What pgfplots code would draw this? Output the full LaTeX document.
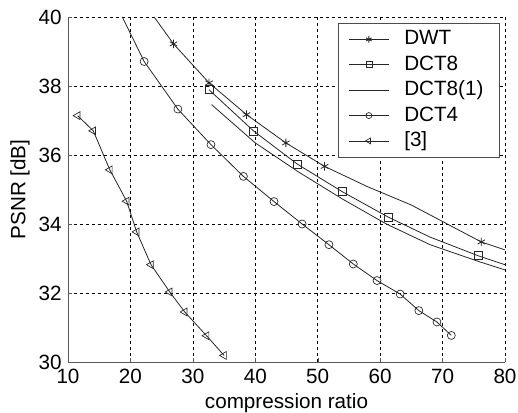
\documentclass[border=0pt]{standalone}
\usepackage{fontspec}
\setmainfont{Liberation Sans}
\usepackage{pgfplots}
\pgfplotsset{compat=1.18}

\begin{document}
\fontsize{15.5bp}{18bp}\selectfont
\begin{tikzpicture}
\useasboundingbox (0,0) rectangle (388.5bp,309.75bp);
\begin{axis}[
  at={(51bp,38.25bp)}, anchor=south west,
  scale only axis,
  width=327.75bp, height=258.75bp,
  xmin=10, xmax=80, ymin=30, ymax=40,
  xtick={10,20,...,80}, ytick={30,32,...,40},
  axis x line*=bottom, axis y line*=left,
  axis line style={black!65, line width=0.7bp, -},
  tick style={black!65},
  major tick length=3bp,
  grid=major,
  major grid style={black, line width=0.5bp, dash pattern=on 2.5bp off 2bp},
  /pgf/number format/assume math mode=true,
  tick label style={font=\fontsize{15.5bp}{18bp}\selectfont},
  xticklabel style={inner sep=0pt, anchor=north, yshift=-5.4bp},
  yticklabel style={inner sep=0pt, anchor=east, xshift=-4.6bp},
  xlabel={compression ratio},
  ylabel={PSNR [dB]},
  label style={font=\fontsize{15.5bp}{18bp}\selectfont},
  xlabel style={at={(axis description cs:0.5,0)}, anchor=base, yshift=-35bp, inner sep=0pt},
  ylabel style={at={(axis description cs:-0.11,0.5)}, anchor=center, rotate=0, inner sep=0pt},
  every axis plot/.append style={black!85, line width=0.6bp},
  legend cell align=left,
  legend style={at={(1,1)}, anchor=north east, xshift=-3.75bp, yshift=-4.5bp,
    draw=black!70, line width=0.6bp, fill=white, inner xsep=7.5bp, inner ysep=4.5bp,
    row sep=4bp, font=\fontsize{15.5bp}{18bp}\selectfont,
    nodes={inner xsep=0pt, inner ysep=0pt, text height=0.75em, text depth=0.22em},
    /tikz/every odd column/.append style={column sep=11.25bp},
    /tikz/every even column/.append style={text width=64bp, align=left}},
  legend image code/.code={\draw[mark indices={2},every mark/.append style={scale=0.75}] plot coordinates {(0bp,0bp) (15bp,0bp) (30bp,0bp)};},
]
\addplot[mark=asterisk, mark size=3.2bp, mark indices={2,3,4,5,6,9}] coordinates {
  (23.8,40) (26.9,39.22) (32.6,38.09) (38.6,37.17) (44.9,36.35) (51.1,35.67)
  (58,35.08) (65,34.55) (76.2,33.48) (80,33.25)};
\addlegendentry{DWT}
\addplot[mark=square, mark size=3bp, mark options={solid, line width=0.5bp}, mark indices={1,2,3,4,5,7}] coordinates {
  (32.6,37.89) (39.7,36.70) (46.7,35.74) (53.9,34.94) (61.3,34.20) (68,33.62)
  (75.7,33.08) (80,32.82)};
\addlegendentry{DCT8}
\addplot[no marks] coordinates {
  (33,37.46) (40,36.35) (47,35.5) (54,34.72) (61,34.0) (68,33.4) (76,32.9) (80,32.67)};
\addlegendentry{DCT8(1)}
\addplot[mark=o, mark size=3bp, mark options={line width=0.5bp}, mark indices={2,3,4,5,6,7,8,9,10,11,12,13,14}] coordinates {
  (18.7,40) (22.2,38.71) (27.6,37.33) (32.9,36.30) (38.1,35.38) (43.0,34.65)
  (47.5,34.0) (51.8,33.40) (55.7,32.84) (59.5,32.36) (63.2,31.97) (66.2,31.49)
  (69.1,31.16) (71.4,30.77)};
\addlegendentry{DCT4}
\addplot[mark=triangle, mark size=3.4bp, mark options={rotate=90, line width=0.5bp}] coordinates {
  (11.55,37.14) (14.05,36.70) (16.7,35.57) (19.4,34.66) (21.0,33.77) (23.3,32.82)
  (26.3,32.03) (28.7,31.45) (32.2,30.76) (35.0,30.19)};
\addlegendentry{[3]}
\end{axis}
\end{tikzpicture}
\end{document}
